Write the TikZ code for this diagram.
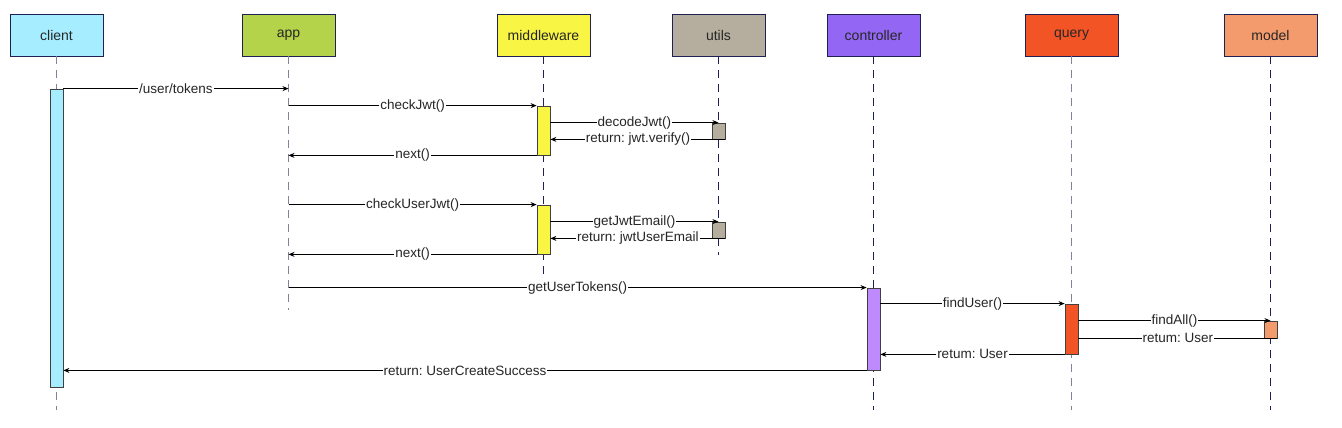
\documentclass[tikz,border=0pt]{standalone}
\usepackage{fontspec}
\setmainfont{Liberation Sans}
\usetikzlibrary{arrows.meta}
\definecolor{headline}{HTML}{1E2152}
\definecolor{lifegray}{HTML}{7F839C}
\definecolor{cclient}{HTML}{A6EEFF}
\definecolor{capp}{HTML}{B5D34A}
\definecolor{cmw}{HTML}{F8F545}
\definecolor{cutils}{HTML}{B5AE9F}
\definecolor{cctrl}{HTML}{9367F3}
\definecolor{cctrlact}{HTML}{C08AFF}
\definecolor{cquery}{HTML}{F25426}
\definecolor{cmodel}{HTML}{F49B6D}
\newcommand\labelfont{\fontsize{13.5}{15}\selectfont\spaceskip=2.5pt\relax}
\tikzset{head node/.style={draw=headline,line width=0.8pt,minimum width=93pt,minimum height=42pt,inner sep=0pt,font=\fontsize{14}{16}\selectfont,text=black!85},
	act node/.style={draw=black!75,line width=0.8pt,minimum width=13pt,inner sep=0pt},
	life/.style={lifegray,dash pattern=on 8pt off 6pt,line width=1.6pt},
	life dark/.style={headline,dash pattern=on 8pt off 6pt,line width=1.1pt},
	msgs/.style={every edge/.style={draw,line width=0.8pt,-{Stealth[length=6pt,width=5pt]}}},
	label/.style={fill=white,inner sep=1pt,font=\labelfont,text=black!85},
}

\begin{document}
\begin{tikzpicture}[x=1pt,y=-1pt]
	\useasboundingbox (0,0) rectangle (1342,428);
	\node[head node,fill=cclient] (client) at (56.5,35) {client};
	\node[head node,fill=capp] (app) at (288.5,35) {app};
	\node[head node,fill=cmw] (mw) at (543.5,35) {middleware};
	\node[head node,fill=cutils] (utils) at (718.5,35) {utils};
	\node[head node,fill=cctrl] (ctrl) at (873.5,35) {controller};
	\node[head node,fill=cquery] (query) at (1071.5,35) {query};
	\node[head node,fill=cmodel] (model) at (1270.5,35) {model};
	
	\coordinate (bottom) at (0,410);
	\coordinate (append) at (0,310);
	\coordinate (mwend) at (0,278);
	\coordinate (utilsend) at (0,255);
	
	\draw[life] (client.south) -- (client.south |- bottom);
	\draw[life] (app.south) -- (app.south |- append);
	\draw[life dark] (mw.south) -- (mw.south |- mwend);
	\draw[life dark] (utils.south) -- (utils.south |- utilsend);
	\draw[life dark] (ctrl.south) -- (ctrl.south |- bottom);
	\draw[life] (query.south) -- (query.south |- bottom);
	\draw[life dark] (model.south) -- (model.south |- bottom);
	
	\node[act node,fill=cclient,minimum height=298pt] (cact) at (56.5,238) {};
	\node[act node,fill=cmw,minimum height=49pt] (mact1) at (543.5,130.5) {};
	\node[act node,fill=cutils,minimum height=16pt] (uact1) at (718.5,131) {};
	\node[act node,fill=cmw,minimum height=49pt] (mact2) at (543.5,229.5) {};
	\node[act node,fill=cutils,minimum height=16pt] (uact2) at (718.5,230) {};
	\node[act node,fill=cctrlact,minimum height=82pt] (ctact) at (873.5,329) {};
	\node[act node,fill=cquery,minimum height=50pt] (qact) at (1071.5,329) {};
	\node[act node,fill=cmodel,minimum height=17pt] (mdact) at (1270.5,329.5) {};
	
	\path[msgs]
	(cact.north east) edge node[label] {/user/tokens} (app |- cact.north east)
	(app |- mact1.north west) edge node[label] {checkJwt()} (mact1.north west)
	(mact1.east |- uact1.north) edge node[label] {decodeJwt()} (utils |- uact1.north)
	(uact1.south east) edge node[label] {return: jwt.verify()} (mact1.east |- uact1.south)
	(mact1.south west) edge node[label] {next()} (app |- mact1.south west)
	(app |- mact2.north west) edge node[label] {checkUserJwt()} (mact2.north west)
	(mact2.east |- uact2.north) edge node[label] {getJwtEmail()} (utils |- uact2.north)
	(uact2.south east) edge node[label] {return: jwtUserEmail} (mact2.east |- uact2.south)
	(mact2.south west) edge node[label] {next()} (app |- mact2.south west)
	(app |- ctact.north west) edge node[label] {getUserTokens()} (ctact.north west)
	(ctact.east |- qact.north) edge node[label] {findUser()} (qact.north west)
	(qact.east |- mdact.north) edge node[label] {findAll()} (model |- mdact.north)
	(mdact.south east) edge[-] node[label] {retum: User} (qact.east |- mdact.south)
	(qact.south west) edge node[label] {retum: User} (ctact.east |- qact.south)
	(ctact.south west) edge node[label] {return: UserCreateSuccess} (cact.east |- ctact.south west);
\end{tikzpicture}
\end{document}
